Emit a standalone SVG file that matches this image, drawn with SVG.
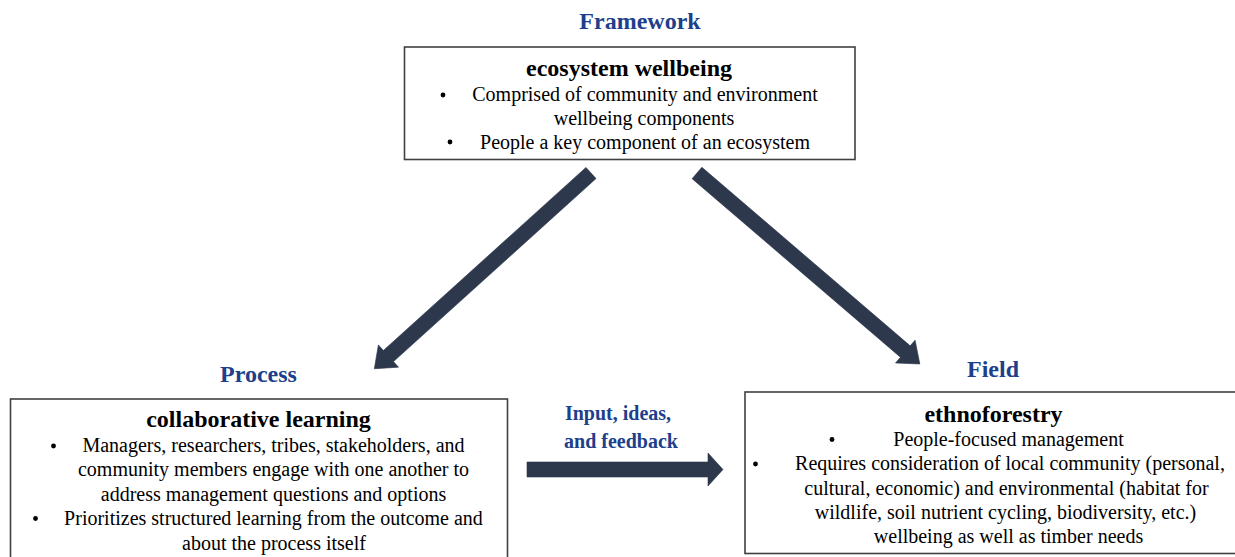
<svg xmlns="http://www.w3.org/2000/svg" width="1235" height="557" viewBox="0 0 1235 557">
  <style>
    .box { fill: #ffffff; stroke: #404040; stroke-width: 1.6; }
    text { font-family: "Liberation Serif", Tinos, "Times New Roman", "DejaVu Serif", serif; }
    .title { font-weight: bold; font-size: 24px; fill: #1d3f8c; text-anchor: middle; }
    .label { font-weight: bold; font-size: 20px; fill: #1d3f8c; text-anchor: middle; }
    .head { font-weight: bold; font-size: 24px; fill: #000; text-anchor: middle; }
    .body { font-size: 20px; fill: #000; text-anchor: middle; }
    .dot { fill: #000; }
    .arrow { fill: #2d384d; stroke: #2d384d; stroke-width: 0.6; stroke-linejoin: miter; }
  </style>
  <defs>
    <!-- block arrow pointing along +x -->
    <polygon id="blockArrow" points="0,-7.5 273,-7.5 273,-15 292,0 273,15 273,7.5 0,7.5"/>
  </defs>
  <rect width="1235" height="557" fill="#ffffff"/>

  <g id="connectors">
    <use href="#blockArrow" class="arrow" transform="translate(591,173) rotate(137.9)"/>
    <use href="#blockArrow" class="arrow" transform="translate(697,173) rotate(40.6) scale(1.005,1)"/>
    <polygon class="arrow" points="527,462 708,462 708,453 723,469.5 708,486 708,477 527,477"/>
    <text class="label" x="618" y="420">Input, ideas,</text>
    <text class="label" x="621" y="448">and feedback</text>
  </g>

  <g id="framework">
    <text class="title" x="640" y="29">Framework</text>
    <rect class="box" x="404.5" y="47" width="450.5" height="112.5"/>
    <text class="head" x="629" y="76">ecosystem wellbeing</text>
    <circle class="dot" cx="443" cy="95" r="2.4"/>
    <text class="body" x="645" y="101">Comprised of community and environment</text>
    <text class="body" x="644" y="124.5">wellbeing components</text>
    <circle class="dot" cx="450" cy="142" r="2.4"/>
    <text class="body" x="645" y="148.5">People a key component of an ecosystem</text>
  </g>

  <g id="process">
    <text class="title" x="258.5" y="382">Process</text>
    <rect class="box" x="10.5" y="399" width="497" height="170"/>
    <text class="head" x="258.5" y="427">collaborative learning</text>
    <circle class="dot" cx="53.5" cy="446" r="2.4"/>
    <text class="body" x="273.5" y="452">Managers, researchers, tribes, stakeholders, and</text>
    <text class="body" x="273.5" y="476">community members engage with one another to</text>
    <text class="body" x="273.5" y="500.5">address management questions and options</text>
    <circle class="dot" cx="35.5" cy="518.5" r="2.4"/>
    <text class="body" x="273.5" y="525">Prioritizes structured learning from the outcome and</text>
    <text class="body" x="274" y="549.5">about the process itself</text>
  </g>

  <g id="field">
    <text class="title" x="993" y="377">Field</text>
    <rect class="box" x="745" y="392" width="500" height="161.5"/>
    <text class="head" x="993.5" y="422">ethnoforestry</text>
    <circle class="dot" cx="832" cy="439.5" r="2.4"/>
    <text class="body" x="1008.5" y="446">People-focused management</text>
    <circle class="dot" cx="755.5" cy="464" r="2.4"/>
    <text class="body" x="1010" y="470">Requires consideration of local community (personal,</text>
    <text class="body" x="1006.5" y="494.5">cultural, economic) and environmental (habitat for</text>
    <text class="body" x="1005.5" y="519">wildlife, soil nutrient cycling, biodiversity, etc.)</text>
    <text class="body" x="1008.5" y="543">wellbeing as well as timber needs</text>
  </g>
</svg>
